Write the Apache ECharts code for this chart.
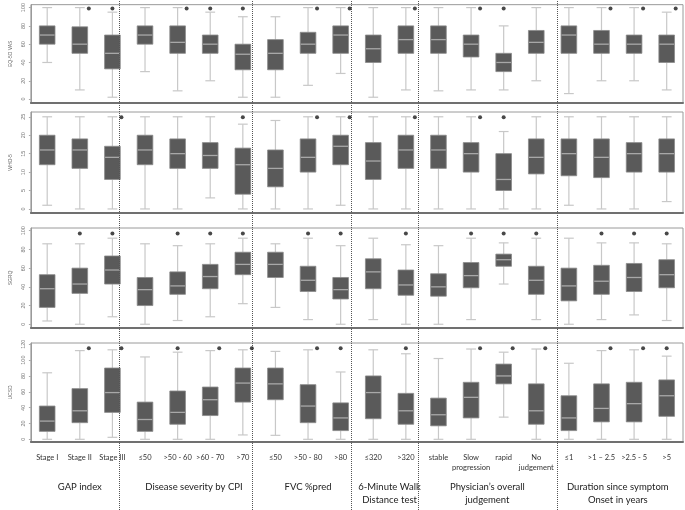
<!DOCTYPE html>
<html>
<head>
<meta charset="utf-8">
<script src="https://cdn.jsdelivr.net/npm/echarts@6/dist/echarts.min.js"></script>
<style>html,body{margin:0;padding:0;background:#fff}#c{width:685px;height:510px}</style>
</head>
<body>
<div id="c"></div>
<script>
// ---- data ----
const categories = ['Stage I','Stage II','Stage III','≤50','>50 - 60','>60 - 70','>70','≤50','>50 - 80','>80','≤320','>320','stable','Slow\nprogression','rapid','No\njudgement','≤1','>1 – 2.5','>2.5 - 5','>5'];
const groupNames = ['GAP index','Disease severity by CPI','FVC %pred','6-Minute Walk\nDistance test','Physician\u2019s overall\njudgement','Duration since symptom\nOnset in years'];
const groupSizes = [3,4,3,2,4,4];

// [min, Q1, median, Q3, max]
const vas = [
[40,60,70,80,100],[10,50,60,79,100],[2,33,50,70,95],
[30,60,70,80,100],[9,50,62,80,100],[20,50,60,70,95],[2,32,49,60,90],
[2,32,50,65,90],[15,50,60,73,100],[28,50,70,80,100],
[2,40,55,70,100],[10,50,65,80,100],
[9,50,65,80,100],[10,46,60,70,100],[10,30,40,50,80],[20,50,62,75,100],
[6,50,70,80,100],[20,50,60,75,100],[20,50,60,70,100],[10,40,60,70,95]
];
const who5 = [
[1,12,16,20,25],[0,11,16,19,25],[0,8,14,17,25],
[0,12,16,20,25],[0,11,15,19,25],[3,11,14.5,18,25],[0,4,12,16.5,23],
[0,6,11,16,24],[0,10,14,19,25],[1,12,17,20,25],
[0,8,13,18,25],[0,11,16,20,25],
[0,11,16,20,25],[0,10,15,18,25],[0,5,8,15,21],[0,9.5,14,19,25],
[1,9,15,19,25],[0,8.5,14,19,25],[0,10,15,18,25],[2,10,15,19,25]
];
const sgrq = [
[3.5,18,38,53,86],[0,33,43,60,86],[8,43,58,73,92],
[0,20,37,50,86],[4,32,41,56,84],[8,38,51,64,86],[22,53,64,77,92],
[18,50,64,77,86],[5,35,47,62,92],[0,27,37,50,84],
[5,38,56,70,92],[0,31,42,58,85],
[0,30,40,54,84],[5,39,52,66,92],[43,62,69,75,87],[5,32,47,62,92],
[0,25,41,60,92],[5,32,46,63,87],[10,35,50,65,87],[4,39,53,69,86]
];
const ucsd = [
[0,10,23,42,84],[0,21,36,64,112],[2.5,34,59,90,113],
[0,10,25,47,104],[0,19,34,61,110],[0,30,50,66,112],[5.5,47,71,90,113],
[5,50,70,90,111],[0,21,42,69,113],[0,11,27,46,85],
[0,26,59,80,113],[0,19,36,58,108],
[0,17,31,52,102],[0,27,53,72,114],[28,70,80,95,110],[0,19,36,70,114],
[0,11,27,55,96],[0,22,39,70,112],[0,22,45,72,113],[0,29,55,75,105]
];
// significance marker: 0 none, 1 above box, 2 beside whisker top
const vasSig  = [0,2,1,0,2,1,1,0,2,2,0,2,0,2,1,0,0,2,2,2];
const who5Sig = [0,0,2,0,0,0,1,0,2,2,0,2,0,2,1,0,0,0,0,0];
const sgrqSig = [0,1,1,0,1,1,1,0,1,1,0,1,0,1,1,1,0,1,1,1];
const ucsdSig = [0,2,2,0,1,2,2,0,2,1,0,1,0,2,2,2,0,2,2,1];

const vasTicks  = [0,20,40,60,80,100];
const who5Ticks = [0,5,10,15,20,25];
const sgrqTicks = [0,20,40,60,80,100];
const ucsdTicks = [0,20,40,60,80,100,120];

// ---- layout ----
const panels = [
  {name:'EQ-5D VAS', data:vas,  sig:vasSig,  ticks:vasTicks,  top:3,   height:100, min:-4.3, max:103.2, mark:99},
  {name:'WHO-5',     data:who5, sig:who5Sig, ticks:who5Ticks, top:112, height:101, min:-1.1, max:26.3,  mark:24.9},
  {name:'SGRQ',      data:sgrq, sig:sgrqSig, ticks:sgrqTicks, top:228, height:100, min:-4.0, max:102.9, mark:97},
  {name:'UCSD',      data:ucsd, sig:ucsdSig, ticks:ucsdTicks, top:343, height:99,  min:-3.4, max:121.6, mark:115}
];
const L = 20, R = 2;
const dividers = [3,7,10,12,16.2];
const groupCenters = [];
{ let s = 0; groupSizes.forEach(n => { groupCenters.push(s + n/2); s += n; }); }

const grid = [], xAxis = [], yAxis = [], series = [];
const FONT = 'Lato, "Liberation Sans", sans-serif';

function renderBox(params, api) {
  const i = api.value(0);
  const band = api.size([1, 0])[0];
  const bw = band * 0.48, cw = band * 0.30;
  const p = [1,2,3,4,5].map(k => api.coord([i, api.value(k)]));
  const cx = p[0][0];
  const ws = {stroke:'#c8c8c8', lineWidth:1.2};
  return {type:'group', children:[
    {type:'line', shape:{x1:cx,y1:p[0][1],x2:cx,y2:p[1][1]}, style:ws},
    {type:'line', shape:{x1:cx,y1:p[3][1],x2:cx,y2:p[4][1]}, style:ws},
    {type:'line', shape:{x1:cx-cw/2,y1:p[0][1],x2:cx+cw/2,y2:p[0][1]}, style:ws},
    {type:'line', shape:{x1:cx-cw/2,y1:p[4][1],x2:cx+cw/2,y2:p[4][1]}, style:ws},
    {type:'rect', shape:{x:cx-bw/2,y:p[3][1],width:bw,height:p[1][1]-p[3][1]}, style:{fill:'#5a5a5a',stroke:'#8a8a8a',lineWidth:0.8}},
    {type:'line', shape:{x1:cx-bw/2+0.5,y1:p[2][1],x2:cx+bw/2-0.5,y2:p[2][1]}, style:{stroke:'#a8a8a8',lineWidth:1.3}}
  ]};
}

panels.forEach((pn, k) => {
  grid.push({left:L, right:R, top:pn.top, height:pn.height, show:true, borderColor:'#9a9a9a', borderWidth:1, backgroundColor:'transparent'});
  const last = k === panels.length - 1;
  xAxis.push({
    type:'category', gridIndex:k, data:categories, boundaryGap:true, position:'bottom',
    axisLine:{show:true, onZero:false, lineStyle:{color:'#707070', width:2}},
    axisTick:{show:false},
    axisLabel: last ? {show:true, interval:0, fontSize:7.5, lineHeight:10.5, color:'#333', fontFamily:FONT, margin:10} : {show:false},
    splitLine:{show:false}
  });
  yAxis.push({
    type:'value', gridIndex:k, min:pn.min, max:pn.max,
    name:pn.name, nameLocation:'middle', nameGap:15, nameRotate:90,
    nameTextStyle:{fontSize:5, color:'#666', fontFamily:'"Liberation Sans", sans-serif'},
    axisLine:{show:true, onZero:false, lineStyle:{color:'#9a9a9a', width:1}},
    axisTick:{show:true, customValues:pn.ticks, length:2, lineStyle:{color:'#aaa'}},
    axisLabel:{customValues:pn.ticks, rotate:90, fontSize:5.5, color:'#777', margin:4, fontFamily:'"Liberation Sans", sans-serif'},
    splitLine:{show:false}
  });
  series.push({
    type:'custom', xAxisIndex:k, yAxisIndex:k, renderItem:renderBox,
    encode:{x:0, y:[1,2,3,4,5]},
    data: pn.data.map((d, i) => [i].concat(d)), silent:true, clip:false
  });
  const above = [], beside = [];
  pn.sig.forEach((s, i) => { if (s === 1) above.push([i, pn.mark]); else if (s === 2) beside.push([i, pn.mark]); });
  series.push({type:'scatter', xAxisIndex:k, yAxisIndex:k, data:above, symbol:'circle', symbolSize:4, itemStyle:{color:'#1a1a1a'}, silent:true, z:5});
  series.push({type:'scatter', xAxisIndex:k, yAxisIndex:k, data:beside, symbol:'circle', symbolSize:4, symbolOffset:[9,0], itemStyle:{color:'#1a1a1a'}, silent:true, z:5});
});

// group labels under the last panel
xAxis.push({
  type:'value', gridIndex:3, min:0, max:20, position:'bottom',
  axisLine:{show:false, onZero:false}, axisTick:{show:false}, splitLine:{show:false},
  axisLabel:{customValues:groupCenters, fontSize:9.5, lineHeight:13, color:'#222', fontFamily:FONT, margin:38,
    formatter:(v) => groupNames[groupCenters.indexOf(v)] || ''}
});

// overlay grid for dotted group dividers
grid.push({left:L, right:R, top:0, bottom:0, show:false});
xAxis.push({type:'value', gridIndex:4, min:0, max:20, show:false});
yAxis.push({type:'value', gridIndex:4, min:0, max:1, show:false});
series.push({
  type:'line', xAxisIndex:5, yAxisIndex:4, data:[[0,-1]], showSymbol:false, lineStyle:{opacity:0}, silent:true,
  markLine:{silent:true, symbol:['none','none'], label:{show:false},
    lineStyle:{type:'dotted', color:'#555', width:1},
    data: dividers.map(x => ({xAxis:x}))}
});

const chart = echarts.init(document.getElementById('c'), null, {renderer:'canvas'});
chart.setOption({animation:false, grid, xAxis, yAxis, series});
</script>
</body>
</html>
